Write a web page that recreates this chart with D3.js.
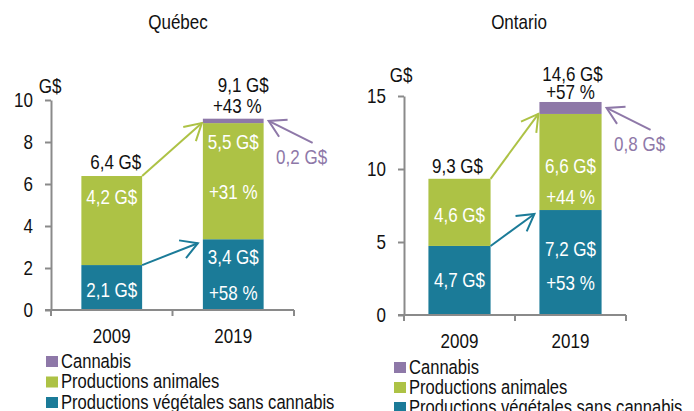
<!DOCTYPE html>
<html>
<head>
<meta charset="utf-8">
<script src="https://cdn.jsdelivr.net/npm/d3@7"></script>
<style>
  html, body { margin: 0; padding: 0; background: #fff; }
  svg { display: block; }
</style>
</head>
<body>
<svg id="chart" width="694" height="411"></svg>
<script>
// ---------- DATA ----------
const years = ["2009", "2019"];
const regions = ["Québec", "Ontario"];
const quebecVeg = [2.14, 3.37];
const quebecAnimal = [4.24, 5.53];
const quebecCannabis = [0, 0.21];
const ontarioVeg = [4.73, 7.19];
const ontarioAnimal = [4.6, 6.58];
const ontarioCannabis = [0, 0.82];
const quebecPct = ["+58 %", "+31 %", "+43 %"];   // veg, animal, total
const ontarioPct = ["+53 %", "+44 %", "+57 %"];
const quebecTicks = [0, 2, 4, 6, 8, 10];
const ontarioTicks = [0, 5, 10, 15];
const legendLabels = ["Cannabis", "Productions animales", "Productions végétales sans cannabis"];
const unitLabel = "G$";

// ---------- STYLE ----------
const FONT = '"Liberation Sans", Arial, sans-serif';
const SX = 0.85; // horizontal condensation to mimic Arial Narrow
const C_VEG = "#1b7b98", C_ANI = "#adc245", C_CAN = "#8e78a8", C_AXIS = "#8a8a8a";
const fmt = v => d3.format(".1f")(v).replace(".", ",") + " G$";

const svg = d3.select("#chart").style("font-family", FONT);

function txt(g, x, y, s, opt = {}) {
  return g.append("text")
    .attr("transform", `translate(${x},${y}) scale(${SX},1)`)
    .attr("dy", "0.35em")
    .attr("text-anchor", opt.anchor || "middle")
    .attr("font-size", opt.size || 20)
    .attr("fill", opt.fill || "#111")
    .text(s);
}

const charts = [
  { name: regions[0], veg: quebecVeg, ani: quebecAnimal, can: quebecCannabis, pct: quebecPct, ticks: quebecTicks, ymax: 10,
    xr: [51, 294], yr: [310, 100], pi: 0.5, po: 0.25, titleX: 178, unitX: 50, unitY: 86, yearY: 336,
    legX: 46, legY: 361, legGap: 20.5,
    inner: { veg: [[2], [-18, 18]], ani: [[-24], [-39, 11]] },
    tot: [[-14, 4], [-34, 10]], pctOff: [-13, 4] },
  { name: regions[1], veg: ontarioVeg, ani: ontarioAnimal, can: ontarioCannabis, pct: ontarioPct, ticks: ontarioTicks, ymax: 15,
    xr: [404, 626], yr: [315, 96], pi: 0.44, po: 0.22, titleX: 519, unitX: 401, unitY: 75, yearY: 341,
    legX: 394, legY: 367, legGap: 20,
    inner: { veg: [[0], [-14, 20]], ani: [[3], [4, 35]] },
    tot: [[-13, -2], [-28, 2]], pctOff: [-10, 0] }
];

function arrow(g, x1, y1, x2, y2, color) {
  g.append("line").attr("x1", x1).attr("y1", y1).attr("x2", x2).attr("y2", y2)
    .attr("stroke", color).attr("stroke-width", 2);
  const a = Math.atan2(y1 - y2, x1 - x2), L = 19, s = Math.PI / 6;
  const p = [[x2 + L * Math.cos(a - s), y2 + L * Math.sin(a - s)], [x2, y2], [x2 + L * Math.cos(a + s), y2 + L * Math.sin(a + s)]];
  g.append("path").attr("d", d3.line()(p)).attr("fill", "none")
    .attr("stroke", color).attr("stroke-width", 2).attr("stroke-linejoin", "miter");
}

charts.forEach(c => {
  const g = svg.append("g");
  const x = d3.scaleBand().domain(years).range(c.xr).paddingInner(c.pi).paddingOuter(c.po);
  const y = d3.scaleLinear().domain([0, c.ymax]).range(c.yr);
  const bw = x.bandwidth();

  // title
  txt(g, c.titleX, 22, c.name);

  // stacked data
  const rows = years.map((yr, i) => ({ year: yr, veg: c.veg[i], ani: c.ani[i], can: c.can[i] }));
  const stack = d3.stack().keys(["veg", "ani", "can"])(rows);
  const colors = { veg: C_VEG, ani: C_ANI, can: C_CAN };
  stack.forEach(layer => {
    g.append("g").selectAll("rect").data(layer).join("rect")
      .attr("x", d => x(d.data.year)).attr("width", bw)
      .attr("y", d => y(d[1])).attr("height", d => y(d[0]) - y(d[1]))
      .attr("fill", colors[layer.key]);
  });

  // y axis
  const ya = g.append("g").attr("transform", `translate(${c.xr[0]},0)`)
    .call(d3.axisLeft(y).tickValues(c.ticks).tickSize(6).tickSizeOuter(0).tickPadding(12).tickFormat(d3.format("d")));
  ya.select(".domain").attr("stroke", C_AXIS).attr("stroke-width", 2);
  ya.selectAll(".tick line").attr("stroke", C_AXIS).attr("stroke-width", 2);
  ya.selectAll(".tick text").attr("font-size", 20).attr("font-family", FONT).attr("fill", "#111")
    .attr("x", -18 / SX).attr("transform", `scale(${SX},1)`);

  // x axis with boundary ticks
  const y0 = y(0);
  g.append("line").attr("x1", c.xr[0] - 6).attr("x2", c.xr[1]).attr("y1", y0).attr("y2", y0)
    .attr("stroke", C_AXIS).attr("stroke-width", 2);
  d3.range(years.length + 1).forEach(i => {
    const bx = c.xr[0] + i * x.step();
    g.append("line").attr("x1", bx).attr("x2", bx).attr("y1", y0).attr("y2", y0 + 6)
      .attr("stroke", C_AXIS).attr("stroke-width", 2);
  });
  years.forEach(yr => txt(g, x(yr) + bw / 2, c.yearY, yr));

  // unit label
  txt(g, c.unitX, c.unitY, unitLabel);

  // inner labels
  rows.forEach((r, i) => {
    const cx = x(r.year) + bw / 2;
    [["veg", 0, r.veg], ["ani", r.veg, r.veg + r.ani]].forEach(([k, lo, hi]) => {
      const mid = (y(lo) + y(hi)) / 2;
      const offs = c.inner[k][i];
      const texts = i === 0 ? [fmt(c[k][i])] : [fmt(c[k][i]), c.pct[k === "veg" ? 0 : 1]];
      texts.forEach((t, j) => txt(g, cx, mid + offs[j], t, { fill: "#fff" }));
    });
    // total
    const total = r.veg + r.ani + r.can;
    const top = y(total);
    txt(g, cx + c.tot[i][1], top + c.tot[i][0], fmt(total));
    if (i === 1) txt(g, cx + c.pctOff[1], top + c.pctOff[0], c.pct[2]);
  });

  // arrows
  const r0 = rows[0], r1 = rows[1];
  const xr0 = x(r0.year) + bw, xl1 = x(r1.year);
  arrow(g, xr0, y(r0.veg + r0.ani), xl1 - 1, y(r1.veg + r1.ani), C_ANI);
  arrow(g, xr0, y(r0.veg), xl1 - 5, y(r1.veg) + 4, C_VEG);
  const canMid = (y(r1.veg + r1.ani) + y(r1.veg + r1.ani + r1.can)) / 2;
  const xr1 = xl1 + bw;
  arrow(g, xr1 + 49, canMid + 22, xr1 + 5, canMid, C_CAN);
  txt(g, xr1 + 38, canMid + 36, fmt(r1.can), { fill: C_CAN });

  // legend
  const legColors = [C_CAN, C_ANI, C_VEG];
  legendLabels.forEach((t, i) => {
    const cy = c.legY + i * c.legGap;
    g.append("rect").attr("x", c.legX).attr("y", cy - 5).attr("width", 12).attr("height", 11).attr("fill", legColors[i]);
    txt(g, c.legX + 15, cy, t, { anchor: "start", size: 19.5 });
  });
});
</script>
</body>
</html>
